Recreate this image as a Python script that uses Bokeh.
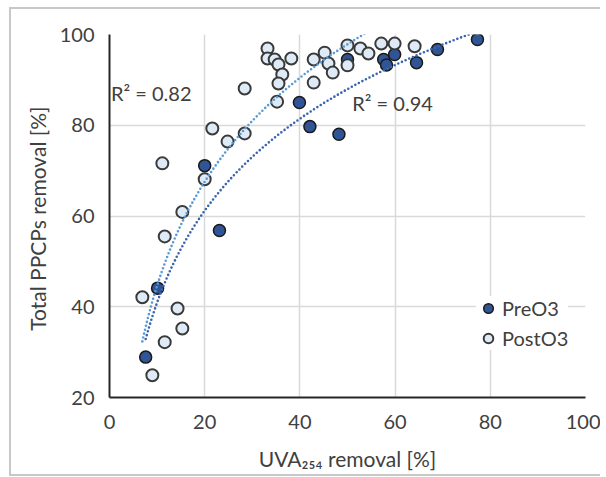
import numpy as np
from bokeh.plotting import figure
from bokeh.models import FixedTicker, Label, Legend, LegendItem, Title
from bokeh.embed import file_html
from bokeh.resources import INLINE

# ---- data ----
pre_x = [7.6, 10.1, 20.0, 23.1, 39.9, 42.1, 48.2, 50.0, 57.6, 58.2, 59.9, 64.5, 68.9, 77.3]
pre_y = [28.9, 44.1, 71.1, 56.8, 85.0, 79.7, 78.0, 94.5, 94.5, 93.3, 95.6, 93.8, 96.7, 98.9]

post_x = [6.9, 9.0, 11.1, 11.6, 11.6, 14.3, 15.3, 15.3, 20.0, 21.6, 24.8, 28.4, 28.4,
          33.2, 33.2, 34.7, 35.5, 36.3, 35.5, 35.2, 38.2, 42.9, 42.9, 45.2, 46.0, 46.9,
          50.0, 50.0, 52.7, 54.4, 57.1, 59.9, 64.1]
post_y = [42.1, 24.9, 71.6, 55.5, 32.2, 39.6, 60.9, 35.2, 68.1, 79.3, 76.4, 78.2, 88.1,
          96.9, 94.7, 94.5, 93.4, 91.2, 89.2, 85.2, 94.7, 94.5, 89.4, 96.0, 93.6, 91.6,
          97.6, 93.2, 96.9, 95.8, 98.0, 98.0, 97.4]

x_ticks = [0, 20, 40, 60, 80, 100]
y_ticks = [20, 40, 60, 80, 100]
series_names = ["PreO3", "PostO3"]
r2_texts = ["R\u00b2 = 0.94", "R\u00b2 = 0.82"]
x_title = "UVA\u2082\u2085\u2084 removal [%]"
y_title = "Total  PPCPs removal [%]"

FONT = "Lato"
TXT = "#404040"
FS = "20px"
BORDER = "#c8c8c8"

W, H = 600, 476
FL, FT, FB, FR = 109, 34, 397, 585   # frame edges in page pixels
bg = (f"linear-gradient({BORDER},{BORDER}) 9px 7px / 2px 469px no-repeat, "
      f"linear-gradient({BORDER},{BORDER}) 9px 7px / 600px 2px no-repeat, "
      f"linear-gradient({BORDER},{BORDER}) 9px 474px / 600px 2px no-repeat, white")
p = figure(width=W, height=H, x_range=(0, 100), y_range=(20, 100),
           output_backend="svg", toolbar_location=None,
           min_border_left=FL, min_border_right=W - FR, min_border_top=FT,
           min_border_bottom=H - FB)
p.styles = {"background": bg}
p.outline_line_color = None
p.background_fill_color = "white"
p.border_fill_color = None

for ax, ticks in ((p.xaxis, x_ticks), (p.yaxis, y_ticks)):
    ax.ticker = FixedTicker(ticks=ticks)
    ax.major_tick_out = 0
    ax.major_tick_in = 0
    ax.minor_tick_out = 0
    ax.minor_tick_in = 0
    ax.axis_line_color = "#262626"
    ax.axis_line_width = 2
    ax.major_label_text_font = FONT
    ax.major_label_text_font_size = FS
    ax.major_label_text_color = TXT
p.yaxis.major_label_standoff = 15
p.xaxis.major_label_standoff = 17

p.xaxis.axis_label = x_title
p.xaxis.axis_label_text_font = FONT
p.xaxis.axis_label_text_font_size = "21px"
p.xaxis.axis_label_text_font_style = "normal"
p.xaxis.axis_label_text_color = TXT
p.xaxis.axis_label_standoff = 14

ytitle = Title(text=y_title, align="center", offset=-24, standoff=14,
               text_font=FONT, text_font_size="21px", text_font_style="normal",
               text_color=TXT)
p.add_layout(ytitle, "left")

p.xgrid.ticker = FixedTicker(ticks=x_ticks)
p.ygrid.ticker = FixedTicker(ticks=y_ticks)
p.grid.grid_line_color = "#d9d9d9"
p.grid.grid_line_width = 1.5

r_pre = p.scatter(pre_x, pre_y, size=12, fill_color="#2f5597",
                  line_color="#1a1a1a", line_width=1.5)
r_post = p.scatter(post_x, post_y, size=12, fill_color="#deebf7",
                   line_color="#3a3a3a", line_width=2)

# logarithmic trendlines (least-squares fit, as in the spreadsheet)
for xs, ys, col in ((post_x, post_y, "#5b9bd5"), (pre_x, pre_y, "#3a64b0")):
    a, b = np.polyfit(np.log(xs), ys, 1)
    xx = np.linspace(min(xs), max(xs), 300)
    p.line(xx, a * np.log(xx) + b, line_color=col, line_width=2.6,
           line_dash="0 4", line_cap="round")

p.add_layout(Label(x=0.3, y=87.2, text=r2_texts[1], text_font=FONT,
                   text_font_size=FS, text_color=TXT, text_baseline="middle"))
p.add_layout(Label(x=51, y=85.0, text=r2_texts[0], text_font=FONT,
                   text_font_size=FS, text_color=TXT, text_baseline="middle"))

legend = Legend(items=[LegendItem(label=series_names[0], renderers=[r_pre]),
                       LegendItem(label=series_names[1], renderers=[r_post])],
                location=(367, 47))
legend.label_text_font = FONT
legend.label_text_font_size = FS
legend.label_text_color = TXT
legend.glyph_width = 24
legend.glyph_height = 24
legend.label_height = 24
legend.label_standoff = 2
legend.spacing = 6
legend.padding = 7
legend.margin = 0
legend.border_line_color = None
legend.background_fill_color = "white"
legend.background_fill_alpha = 1
p.add_layout(legend)

open("out.html", "w").write(file_html(p, INLINE))
